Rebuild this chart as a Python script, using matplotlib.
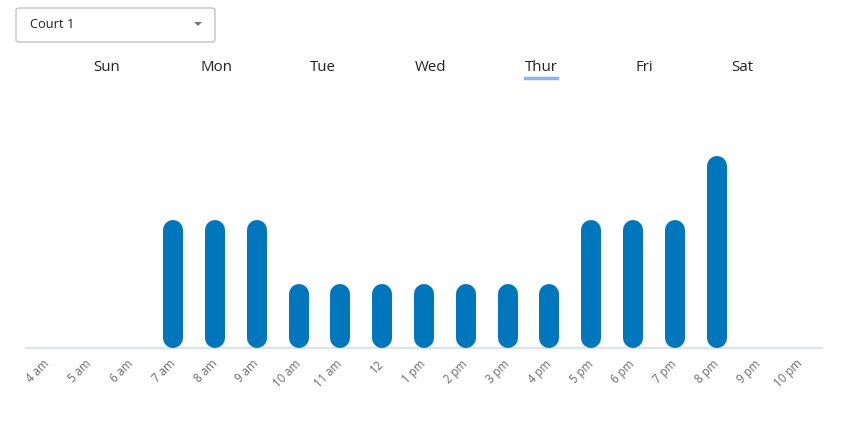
import matplotlib.pyplot as plt
from matplotlib.patches import FancyBboxPatch, Polygon
from matplotlib.lines import Line2D

plt.rcParams['font.family'] = ['Open Sans', 'DejaVu Sans']

# data
hours = ["4 am", "5 am", "6 am", "7 am", "8 am", "9 am", "10 am", "11 am", "12",
         "1 pm", "2 pm", "3 pm", "4 pm", "5 pm", "6 pm", "7 pm", "8 pm", "9 pm", "10 pm"]
counts = [0, 0, 0, 2, 2, 2, 1, 1, 1, 1, 1, 1, 1, 2, 2, 2, 3, 0, 0]
days = ["Sun", "Mon", "Tue", "Wed", "Thur", "Fri", "Sat"]
selected_day = "Thur"
court = "Court 1"

W, H = 848, 421
fig = plt.figure(figsize=(W / 100, H / 100), dpi=100)

# chart axes
ax_l, ax_r, ax_t, ax_b = 26, 822, 100, 348
ax = fig.add_axes([ax_l / W, 1 - ax_b / H, (ax_r - ax_l) / W, (ax_b - ax_t) / H])
ymax = 3.875
ax.set_xlim(-0.52, len(hours) - 0.48)
ax.set_ylim(0, ymax)

# rounded bars = thick lines with round caps
bar_px = 20
r_y = (bar_px / 2) * ymax / (ax_b - ax_t)
for i, v in enumerate(counts):
    if v <= 0:
        continue
    ax.plot([i, i], [r_y, v - r_y], color="#0077bc", linewidth=bar_px * 0.72,
            solid_capstyle="round", zorder=3)

for s in ["top", "right", "left"]:
    ax.spines[s].set_visible(False)
ax.spines["bottom"].set_color("#dde2ec")
ax.spines["bottom"].set_linewidth(1.5)
ax.set_yticks([])
ax.set_xticks(range(len(hours)))
ax.set_xticklabels(hours, rotation=45, ha="right", va="center",
                   rotation_mode="anchor", fontsize=8.3, color="#6b6b6b")
ax.tick_params(axis="x", length=0, pad=10)

# day tabs
day_x = [107, 216, 323, 431, 541, 644, 742]
for d, x in zip(days, day_x):
    fig.text(x / W, 1 - 67.5 / H, d, ha="center", va="center", fontsize=10.8,
             color="#222222")
    if d == selected_day:
        fig.add_artist(Line2D([(x - 16) / W, (x + 16) / W], [1 - 78 / H, 1 - 78 / H],
                              color="#8fb3ee", linewidth=2.5))

# dropdown
box = FancyBboxPatch((16 / W, 1 - 42 / H), 199 / W, 34 / H,
                     boxstyle="round,pad=0,rounding_size=0.005",
                     transform=fig.transFigure, facecolor="white",
                     edgecolor="#c4c4c4", linewidth=1)
fig.add_artist(box)
fig.text(30 / W, 1 - 24.5 / H, court, ha="left", va="center", fontsize=9.3,
         color="#222222")
tri = Polygon([[194 / W, 1 - 22 / H], [202 / W, 1 - 22 / H], [198 / W, 1 - 26 / H]],
              closed=True, transform=fig.transFigure, facecolor="#757575",
              edgecolor="none")
fig.add_artist(tri)

fig.savefig("out.png", dpi=100)
